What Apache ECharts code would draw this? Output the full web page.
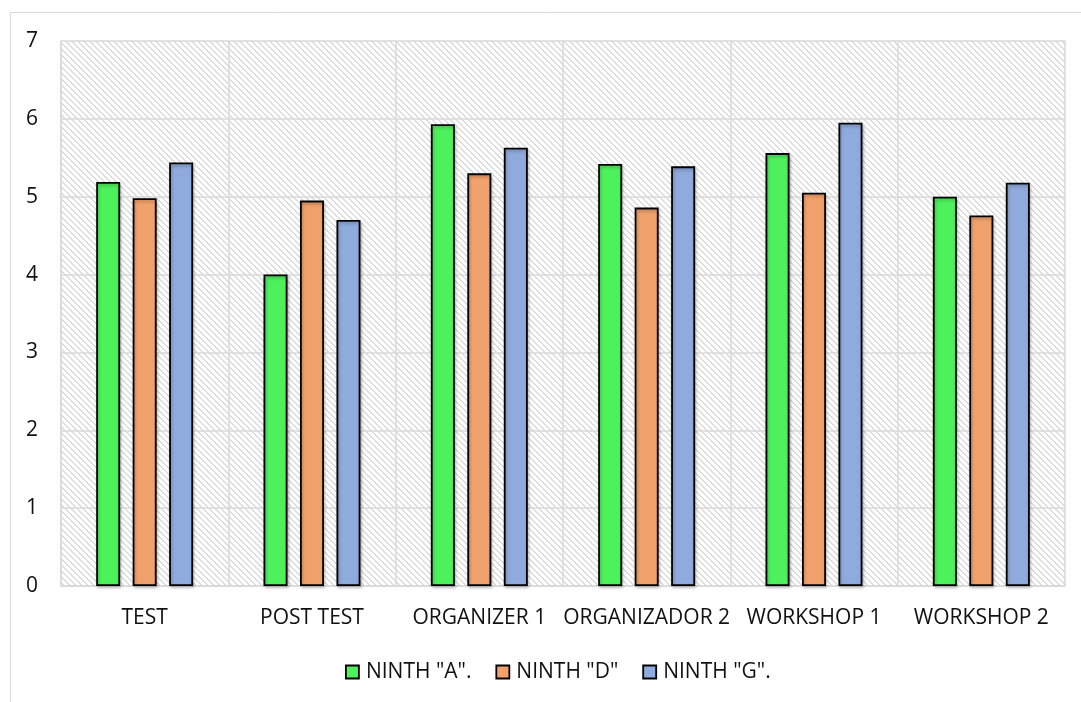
<!DOCTYPE html>
<html>
<head>
<meta charset="utf-8">
<script src="https://cdn.jsdelivr.net/npm/echarts@6/dist/echarts.min.js"></script>
<style>
  html, body { margin: 0; padding: 0; background: #fff; }
  #chart { width: 1081px; height: 702px; }
</style>
</head>
<body>
<div id="chart"></div>
<script>
// Categories and scores per group
const categories = ['TEST', 'POST TEST', 'ORGANIZER 1', 'ORGANIZADOR 2', 'WORKSHOP 1', 'WORKSHOP 2'];
const seriesNames = ['NINTH "A".', 'NINTH "D"', 'NINTH "G".'];
const ninthA = [5.19, 4.00, 5.93, 5.42, 5.56, 5.00];
const ninthD = [4.98, 4.95, 5.30, 4.86, 5.05, 4.76];
const ninthG = [5.44, 4.70, 5.63, 5.39, 5.95, 5.18];
const yTicks = { min: 0, max: 7, interval: 1 };

const colors = ['#4DF15B', '#F1A16C', '#8FAADC'];
const FONT = '"Open Sans", "Noto Sans", sans-serif';
const FONT_SIZE = 21;

// Light downward-diagonal hatch used as the plot background
function hatchPattern() {
  const size = 6;
  const c = document.createElement('canvas');
  c.width = size; c.height = size;
  const ctx = c.getContext('2d');
  ctx.fillStyle = '#ffffff';
  ctx.fillRect(0, 0, size, size);
  ctx.fillStyle = '#dddddd';
  for (let i = 0; i < size; i++) {
    ctx.fillRect(i, i, 1, 1);
    ctx.fillRect((i + 1) % size, i, 1, 1);
  }
  return { image: c, repeat: 'repeat' };
}

const chart = echarts.init(document.getElementById('chart'), null, { renderer: 'canvas' });

const barStyle = (color) => ({
  color: color,
  borderColor: '#000000',
  borderWidth: 1.8,
  shadowColor: 'rgba(0,0,0,0.25)',
  shadowBlur: 3,
  shadowOffsetX: 1,
  shadowOffsetY: 2
});

const data = [ninthA, ninthD, ninthG];

chart.setOption({
  animation: false,
  backgroundColor: '#ffffff',
  textStyle: { fontFamily: FONT },
  graphic: [{
    type: 'rect',
    shape: { x: 10.5, y: 12.5, width: 1100, height: 720 },
    style: { fill: 'none', stroke: '#d9d9d9', lineWidth: 1 },
    silent: true,
    z: -10
  }],
  grid: {
    left: 61, right: 16, top: 41, bottom: 116,
    show: true,
    backgroundColor: hatchPattern(),
    borderWidth: 0
  },
  legend: {
    left: 340,
    top: 655,
    itemWidth: 13,
    itemHeight: 13,
    itemGap: 24,
    icon: 'rect',
    itemStyle: { borderColor: '#000000', borderWidth: 1.8, shadowBlur: 0, shadowOffsetX: 0, shadowOffsetY: 0 },
    textStyle: { fontFamily: FONT, fontSize: FONT_SIZE, color: '#111111', lineHeight: 24, padding: [0, 0, 0, 2] },
    data: seriesNames
  },
  xAxis: {
    type: 'category',
    data: categories,
    boundaryGap: true,
    axisLine: { show: true, lineStyle: { color: '#d9d9d9', width: 1.5 } },
    axisTick: { show: false },
    axisLabel: { color: '#111111', fontSize: FONT_SIZE, fontFamily: FONT, margin: 22, interval: 0 },
    splitLine: { show: true, interval: 0, lineStyle: { color: '#d9d9d9', width: 1.5 } }
  },
  yAxis: {
    type: 'value',
    min: yTicks.min,
    max: yTicks.max,
    interval: yTicks.interval,
    axisLine: { show: true, lineStyle: { color: '#d9d9d9', width: 1.5 } },
    axisTick: { show: false },
    axisLabel: { color: '#111111', fontSize: FONT_SIZE, fontFamily: FONT, margin: 23 },
    splitLine: { show: true, lineStyle: { color: '#d9d9d9', width: 1.5 } }
  },
  series: seriesNames.map((name, i) => ({
    name: name,
    type: 'bar',
    data: data[i],
    barWidth: 24,
    barGap: '52%',
    itemStyle: barStyle(colors[i])
  }))
});
</script>
</body>
</html>
